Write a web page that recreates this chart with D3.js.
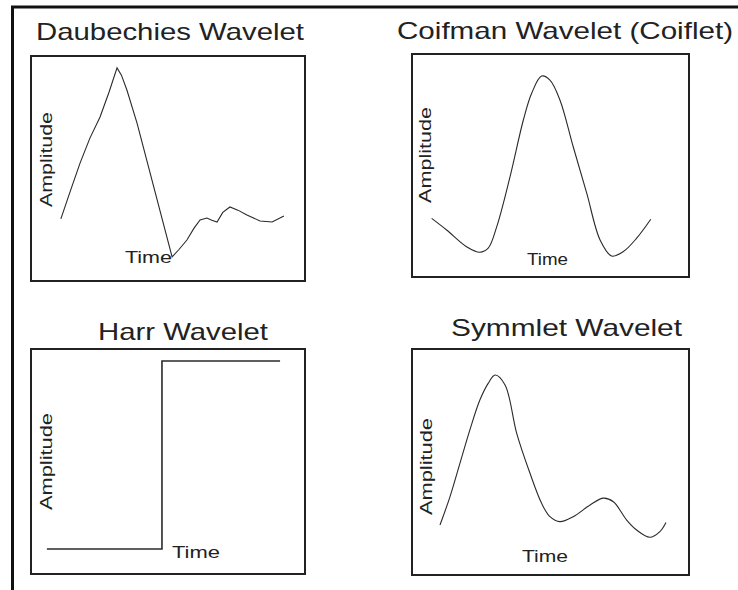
<!DOCTYPE html>
<html>
<head>
<meta charset="utf-8">
<script src="https://cdn.jsdelivr.net/npm/d3@7/dist/d3.min.js"></script>
<style>
  html, body { margin: 0; padding: 0; background: #fff; }
  svg { display: block; }
  text { font-family: "Liberation Sans", Arial, sans-serif; fill: #222; }
</style>
</head>
<body>
<svg id="chart" width="738" height="590"></svg>
<script>
// ---------- data (time in % of window, amplitude in % of window) ----------
const panelTitles = ["Daubechies Wavelet", "Coifman Wavelet (Coiflet)", "Harr Wavelet", "Symmlet Wavelet"];
const xAxisLabel = "Time";
const yAxisLabel = "Amplitude";

const daubechiesTime = [10.9, 14.5, 17.9, 21.5, 25.2, 28.5, 31.4, 33.0, 35.0, 38.7, 51.5, 54.0, 56.9, 59.5, 61.7, 64.2, 66.0, 67.9, 70.0, 72.6, 75.5, 78.8, 83.6, 88.0, 92.3];
const daubechiesAmp  = [27.6, 40.5, 52.4, 63.5, 72.9, 84.0, 94.7, 91.5, 84.9, 70.2, 10.7, 14.0, 18.2, 23.5, 27.1, 28.0, 27.0, 26.2, 30.5, 32.9, 31.5, 29.3, 26.7, 26.2, 28.9];

const coifletTime = [7.1, 12.5, 19.7, 24.5, 27.5, 30.6, 35.4, 40.2, 43.2, 46.8, 49.8, 53.4, 58.2, 63.1, 67.9, 72.1, 76.3, 81.1, 86.2];
const coifletAmp  = [26.3, 21.1, 13.6, 11.1, 12.9, 22.6, 45.0, 70.4, 82.4, 90.1, 88.3, 79.4, 58.4, 37.5, 16.6, 9.4, 11.4, 17.4, 25.9];

const haarTime = [5.8, 47.8, 90.9];
const haarAmp  = [11.1, 94.7, 94.7];

const symmletTime = [10.1, 13.7, 17.3, 20.9, 24.5, 27.5, 30.0, 33.6, 37.8, 42.6, 46.8, 49.8, 53.4, 58.2, 64.3, 69.1, 72.7, 77.5, 81.1, 85.9, 89.5, 91.7];
const symmletAmp  = [22.1, 34.6, 49.4, 64.2, 77.4, 84.8, 88.5, 84.1, 62.7, 45.0, 31.7, 25.8, 23.6, 25.8, 31.0, 34.0, 32.4, 24.3, 19.9, 16.7, 19.2, 23.2];

const seriesTimes = [daubechiesTime, coifletTime, haarTime, symmletTime];
const seriesAmps  = [daubechiesAmp, coifletAmp, haarAmp, symmletAmp];

// ---------- layout ----------
const smooth = d3.curveCatmullRom.alpha(0.5);
const panels = [
  { box: [31, 56, 305, 281],  title: { x1: 36,  x2: 304, y: 40 },
    time: { x: 125, y: 263, w: 47 }, amp: { x: 52, y1: 207, y2: 112 }, curve: d3.curveLinear },
  { box: [412, 54, 689, 277], title: { x1: 397, x2: 733, y: 39 },
    time: { x: 527, y: 265, w: 41 }, amp: { x: 431, y1: 203, y2: 107 }, curve: smooth },
  { box: [31, 349, 305, 574], title: { x1: 98,  x2: 268, y: 340 },
    time: { x: 172, y: 558, w: 48 }, amp: { x: 52, y1: 510, y2: 413 }, curve: d3.curveStepAfter },
  { box: [412, 349, 689, 575], title: { x1: 451, x2: 682, y: 336 },
    time: { x: 522, y: 562, w: 46 }, amp: { x: 432, y1: 515, y2: 418 }, curve: smooth }
];

const svg = d3.select("#chart");

// outer frame (top and left rules)
svg.append("path")
  .attr("d", d3.line()([[12.5, 590], [12.5, 7], [738, 7]]))
  .attr("fill", "none").attr("stroke", "#111").attr("stroke-width", 3);

panels.forEach((p, i) => {
  const [x0, y0, x1, y1] = p.box;
  const xScale = d3.scaleLinear().domain([0, 100]).range([x0, x1]);
  const yScale = d3.scaleLinear().domain([0, 100]).range([y1, y0]);
  const g = svg.append("g");

  g.append("rect")
    .attr("x", x0).attr("y", y0).attr("width", x1 - x0).attr("height", y1 - y0)
    .attr("fill", "none").attr("stroke", "#222").attr("stroke-width", 2);

  g.append("text")
    .attr("x", p.title.x1).attr("y", p.title.y)
    .attr("font-size", 24)
    .attr("textLength", p.title.x2 - p.title.x1)
    .attr("lengthAdjust", "spacingAndGlyphs")
    .text(panelTitles[i]);

  g.append("text")
    .attr("x", p.time.x).attr("y", p.time.y)
    .attr("font-size", 17)
    .attr("fill", "#333")
    .attr("textLength", p.time.w)
    .attr("lengthAdjust", "spacingAndGlyphs")
    .text(xAxisLabel);

  g.append("text")
    .attr("transform", `translate(${p.amp.x},${p.amp.y1}) rotate(-90)`)
    .attr("font-size", 16)
    .attr("fill", "#333")
    .attr("textLength", p.amp.y1 - p.amp.y2)
    .attr("lengthAdjust", "spacingAndGlyphs")
    .text(yAxisLabel);

  const pts = seriesTimes[i].map((t, k) => [t, seriesAmps[i][k]]);
  g.append("path")
    .datum(pts)
    .attr("d", d3.line().x(d => xScale(d[0])).y(d => yScale(d[1])).curve(p.curve))
    .attr("fill", "none")
    .attr("stroke", "#2a2a2a")
    .attr("stroke-width", i === 2 ? 1.6 : 1.1);
});
</script>
</body>
</html>
